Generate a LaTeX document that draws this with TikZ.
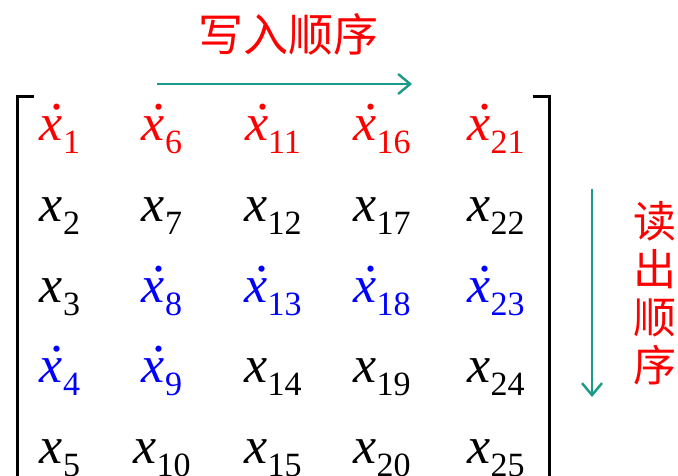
\documentclass[tikz,border=0pt]{standalone}
\usepackage{fontspec}
\setmainfont{Liberation Serif}
\newfontfamily\cjk{Noto Sans CJK SC}
\usetikzlibrary{arrows.meta}
\definecolor{cArrow}{HTML}{1A9A88}
\definecolor{cWrite}{HTML}{FF0000}
\definecolor{cRead}{HTML}{0000FF}
% matrix entries: plain x_n and dotted x_n
\newcommand{\xsub}[1]{\raisebox{-13pt}{\fontsize{34}{34}\selectfont #1}}
\newcommand{\xpl}[1]{\textit{x}\xsub{#1}}
\newcommand{\xdt}[1]{\makebox[0pt][l]{\kern11pt\raisebox{31pt}{.}}\textit{x}\xsub{#1}}

\begin{document}
\begin{tikzpicture}[
  x=1pt,y=1pt,
  font=\fontsize{52}{52}\selectfont,
  ent/.style={anchor=base,inner sep=0pt},
  lab/.style={font=\cjk\fontsize{43}{48}\selectfont,text=cWrite,inner sep=0pt,align=center},
  flow/.style={-{Straight Barb[length=12pt,width=20pt]},draw=cArrow,line width=2.4pt},
  brk/.style={draw=black,line width=3pt},
]
\useasboundingbox (0,0) rectangle (678,-476);

% order labels
\node[lab,font=\cjk\fontsize{45}{48}\selectfont] (wlab) at (288,-34) {写入顺序};
\node[lab] (rlab) at (655,-293) {读\\出\\顺\\序};

% write / read arrows
\coordinate (ws) at (157,-84);
\coordinate (we) at (412,-84);
\coordinate (rs) at (592,-189);
\coordinate (re) at (592,-397);
\draw[flow] (ws) -- (we);
\draw[flow] (rs) -- (re);

% brackets
\coordinate (lbt) at (17.5,-97);
\coordinate (rbt) at (549.5,-97);
\draw[brk] ([xshift=16pt]lbt) -- (lbt) -- (lbt |- 0,-476);
\draw[brk] ([xshift=-17pt]rbt) -- (rbt) -- (rbt |- 0,-476);

% the 5x5 entries, column by column index
\foreach \r/\row in {
  1/{1/cWrite/xdt,6/cWrite/xdt,11/cWrite/xdt,16/cWrite/xdt,21/cWrite/xdt},
  2/{2/black/xpl,7/black/xpl,12/black/xpl,17/black/xpl,22/black/xpl},
  3/{3/black/xpl,8/cRead/xdt,13/cRead/xdt,18/cRead/xdt,23/cRead/xdt},
  4/{4/cRead/xdt,9/cRead/xdt,14/black/xpl,19/black/xpl,24/black/xpl},
  5/{5/black/xpl,10/black/xpl,15/black/xpl,20/black/xpl,25/black/xpl}}
  \foreach \n/\cl/\mk [count=\c from 0] in \row {
    \pgfmathsetmacro\cx{{60,162,273,382,496}[\c]}
    \node[ent,text=\cl] (x\n) at (\cx,-141-80.5*\r+80.5) {\csname\mk\endcsname{\n}};
  }
\end{tikzpicture}
\end{document}
